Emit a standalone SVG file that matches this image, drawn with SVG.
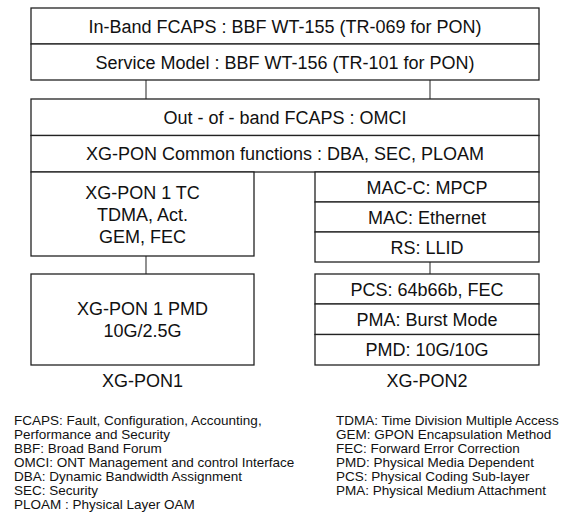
<svg xmlns="http://www.w3.org/2000/svg" width="564" height="515" viewBox="0 0 564 515">
  <style>
    .box { fill: #ffffff; stroke: #222222; stroke-width: 1.3; }
    .link { stroke: #555555; stroke-width: 1.3; fill: none; }
    .t { font-family: "Liberation Sans", Arial, Helvetica, sans-serif; font-size: 18px; fill: #111111; text-anchor: middle; }
    .leg { font-family: "Liberation Sans", Arial, Helvetica, sans-serif; font-size: 13.5px; fill: #111111; }
  </style>
  <rect width="564" height="515" fill="#ffffff"/>

  <!-- connectors between layers -->
  <g id="connectors">
    <line class="link" x1="146" y1="80" x2="146" y2="99"/>
    <line class="link" x1="430" y1="80" x2="430" y2="99"/>
    <line class="link" x1="146" y1="256" x2="146" y2="274"/>
    <line class="link" x1="430" y1="262" x2="430" y2="274"/>
  </g>

  <g id="in-band">
    <rect class="box" x="31" y="8" width="508" height="36"/>
    <text class="t" x="285" y="32.5">In-Band FCAPS : BBF WT-155 (TR-069 for PON)</text>
  </g>
  <g id="service-model">
    <rect class="box" x="31" y="44" width="508" height="36"/>
    <text class="t" x="285" y="68.5">Service Model : BBF WT-156 (TR-101 for PON)</text>
  </g>
  <g id="out-of-band">
    <rect class="box" x="31" y="99" width="508" height="36.5"/>
    <text class="t" x="285" y="123.5">Out - of - band FCAPS : OMCI</text>
  </g>
  <g id="common">
    <rect class="box" x="31" y="135.5" width="508" height="36.5"/>
    <text class="t" x="285" y="160">XG-PON Common functions : DBA, SEC, PLOAM</text>
  </g>

  <g id="xgpon1-tc">
    <rect class="box" x="31" y="172" width="223" height="84"/>
    <text class="t" x="142.5" y="199">XG-PON 1 TC</text>
    <text class="t" x="142.5" y="221">TDMA, Act.</text>
    <text class="t" x="142.5" y="243">GEM, FEC</text>
  </g>
  <g id="xgpon1-pmd">
    <rect class="box" x="31" y="274" width="223" height="91"/>
    <text class="t" x="142.5" y="315">XG-PON 1 PMD</text>
    <text class="t" x="142.5" y="337">10G/2.5G</text>
  </g>

  <g id="mac-c">
    <rect class="box" x="315" y="172" width="224" height="30"/>
    <text class="t" x="427" y="193.5">MAC-C: MPCP</text>
  </g>
  <g id="mac">
    <rect class="box" x="315" y="202" width="224" height="30"/>
    <text class="t" x="427" y="223.5">MAC: Ethernet</text>
  </g>
  <g id="rs">
    <rect class="box" x="315" y="232" width="224" height="30"/>
    <text class="t" x="427" y="253.5">RS: LLID</text>
  </g>
  <g id="pcs">
    <rect class="box" x="315" y="274" width="224" height="30"/>
    <text class="t" x="427" y="295.5">PCS: 64b66b, FEC</text>
  </g>
  <g id="pma">
    <rect class="box" x="315" y="304" width="224" height="30.5"/>
    <text class="t" x="427" y="325.5">PMA: Burst Mode</text>
  </g>
  <g id="pmd">
    <rect class="box" x="315" y="334.5" width="224" height="30.5"/>
    <text class="t" x="427" y="356">PMD: 10G/10G</text>
  </g>

  <text class="t" x="142.5" y="387">XG-PON1</text>
  <text class="t" x="427" y="387">XG-PON2</text>

  <!-- abbreviations -->
  <g id="legend-left">
    <text class="leg" x="14" y="425">FCAPS: Fault, Configuration, Accounting,</text>
    <text class="leg" x="14" y="439">Performance and Security</text>
    <text class="leg" x="14" y="453">BBF: Broad Band Forum</text>
    <text class="leg" x="14" y="467">OMCI: ONT Management and control Interface</text>
    <text class="leg" x="14" y="481">DBA: Dynamic Bandwidth Assignment</text>
    <text class="leg" x="14" y="495">SEC: Security</text>
    <text class="leg" x="14" y="509">PLOAM : Physical Layer OAM</text>
  </g>
  <g id="legend-right">
    <text class="leg" x="336" y="425">TDMA: Time Division Multiple Access</text>
    <text class="leg" x="336" y="439">GEM: GPON Encapsulation Method</text>
    <text class="leg" x="336" y="453">FEC: Forward Error Correction</text>
    <text class="leg" x="336" y="467">PMD: Physical Media Dependent</text>
    <text class="leg" x="336" y="481">PCS: Physical Coding Sub-layer</text>
    <text class="leg" x="336" y="495">PMA: Physical Medium Attachment</text>
  </g>
</svg>
